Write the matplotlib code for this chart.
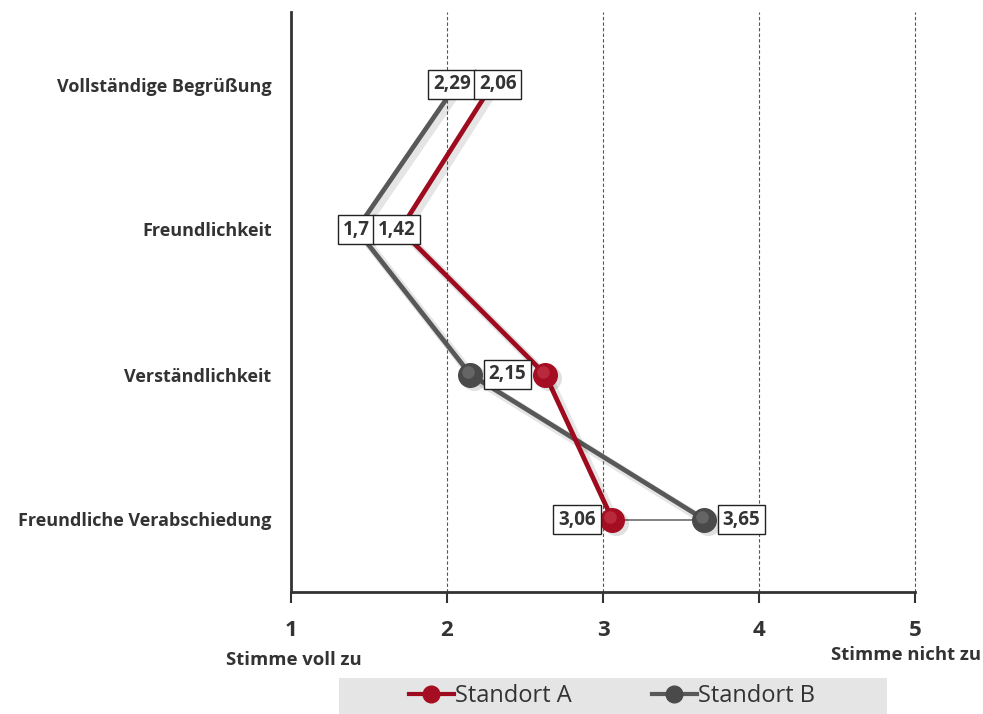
import matplotlib
matplotlib.use("Agg")
import matplotlib.pyplot as plt
import matplotlib.patheffects as pe
import matplotlib.transforms as mtransforms
from matplotlib.lines import Line2D

plt.rcParams['font.family'] = ['Open Sans', 'DejaVu Sans']

categories = ["Vollständige Begrüßung", "Freundlichkeit", "Verständlichkeit", "Freundliche Verabschiedung"]
standort_a = [2.29, 1.70, 2.63, 3.06]
standort_b = [2.06, 1.42, 2.15, 3.65]
labels_a = ["2,06", "1,42", "", "3,06"]
labels_b = ["2,29", "1,7", "2,15", "3,65"]
xticks = [1, 2, 3, 4, 5]
series_names = ["Standort A", "Standort B"]

RED = "#9e0a1e"
GRAY = "#585858"
TXT = "#333333"

fig = plt.figure(figsize=(9.83, 7.14), dpi=100)
ax = fig.add_axes([291/983, 1-592/714, 624/983, 580/714])
ypos = list(range(len(categories)))

shadow = [pe.SimpleLineShadow(offset=(2.5, -2.5), shadow_color='k', alpha=0.10, linewidth=6), pe.Normal()]

# thin connector on last row
ax.plot([standort_a[3], standort_b[3]], [ypos[3], ypos[3]], color="#777777", lw=1.3, zorder=2)

ax.plot(standort_b, ypos, color=GRAY, lw=3.4, zorder=3, path_effects=shadow, solid_capstyle='butt')
ax.plot(standort_a, ypos, color=RED, lw=3.4, zorder=4, path_effects=shadow, solid_capstyle='butt')

def off(dx, dy):
    return ax.transData + mtransforms.ScaledTranslation(dx/72, dy/72, fig.dpi_scale_trans)

def sphere(x, y, col, hl, z):
    ax.plot([x], [y], 'o', ms=18, color='k', alpha=0.12, mew=0, zorder=z-0.1, transform=off(2.5, -2.5))
    ax.plot([x], [y], 'o', ms=17, color=col, mec=col, zorder=z)
    ax.plot([x], [y], 'o', ms=9, color=hl, alpha=0.35, mew=0, zorder=z+0.1, transform=off(-1.5, 1.5))

for i in (2, 3):
    sphere(standort_b[i], ypos[i], "#4a4a4a", "#9a9a9a", 6)
    sphere(standort_a[i], ypos[i], "#a50d22", "#e0606a", 7)

bbox = dict(boxstyle="square,pad=0.26", fc="white", ec="#222222", lw=1)
def lab(x, y, t, dx=0, ha='center', z=10):
    if t:
        ax.annotate(t, (x, y), xytext=(dx, 0), textcoords='offset points', ha=ha, va='center',
                    fontsize=13.5, fontweight='bold', color=TXT, bbox=bbox, zorder=z)

# top two rows: boxes near the points, nudged apart
lab(standort_b[0], ypos[0], labels_b[0], dx=-3, z=10)
lab(standort_a[0], ypos[0], labels_a[0], dx=4, z=11)
lab(standort_b[1], ypos[1], labels_b[1], dx=0, z=10)
lab(standort_a[1], ypos[1], labels_a[1], dx=-2.5, z=11)
# Verständlichkeit
lab(standort_b[2], ypos[2], labels_b[2], dx=13, ha='left')
# last row
lab(standort_a[3], ypos[3], labels_a[3], dx=-12, ha='right')
lab(standort_b[3], ypos[3], labels_b[3], dx=13, ha='left')

ax.set_xlim(1, 5)
ax.set_ylim(3.5, -0.5)
ax.set_xticks(xticks)
ax.set_xticklabels([str(v) for v in xticks], fontsize=16, fontweight='bold', color=TXT)
ax.set_yticks(ypos)
ax.set_yticklabels(categories, fontsize=13, fontweight='bold', color=TXT)
ax.tick_params(axis='y', length=0, pad=14)
ax.tick_params(axis='x', length=8, width=1.5, color=TXT, pad=12, direction='out')
for x in xticks[1:]:
    ax.axvline(x, color="#555555", lw=0.8, ls=(0, (3, 2)), zorder=1, clip_on=False)
for s in ('top', 'right'):
    ax.spines[s].set_visible(False)
for s in ('left', 'bottom'):
    ax.spines[s].set_color(TXT)
    ax.spines[s].set_linewidth(2)

fig.text(294/983, 1-660/714, "Stimme voll zu", ha='center', va='center', fontsize=13.3, fontweight='bold', color=TXT)
fig.text(981/983, 1-655/714, "Stimme nicht zu", ha='right', va='center', fontsize=13.3, fontweight='bold', color=TXT)

# legend
fig.patches.append(plt.Rectangle((339/983, 0), (887-339)/983, 36/714, transform=fig.transFigure,
                                 fc="#e5e5e5", ec="none", zorder=0))
handles = [Line2D([], [], color=RED, lw=3, marker='o', ms=12, mfc="#a50d22", mec="#a50d22"),
           Line2D([], [], color=GRAY, lw=3, marker='o', ms=12, mfc="#4a4a4a", mec="#4a4a4a")]
leg = fig.legend(handles, series_names, loc='center', bbox_to_anchor=(612/983, 1-696/714), ncol=2,
                 frameon=False, fontsize=17, handlelength=1.9, handletextpad=0.05, columnspacing=3.4)
for t in leg.get_texts():
    t.set_color(TXT)

fig.savefig("out.png", dpi=100)
